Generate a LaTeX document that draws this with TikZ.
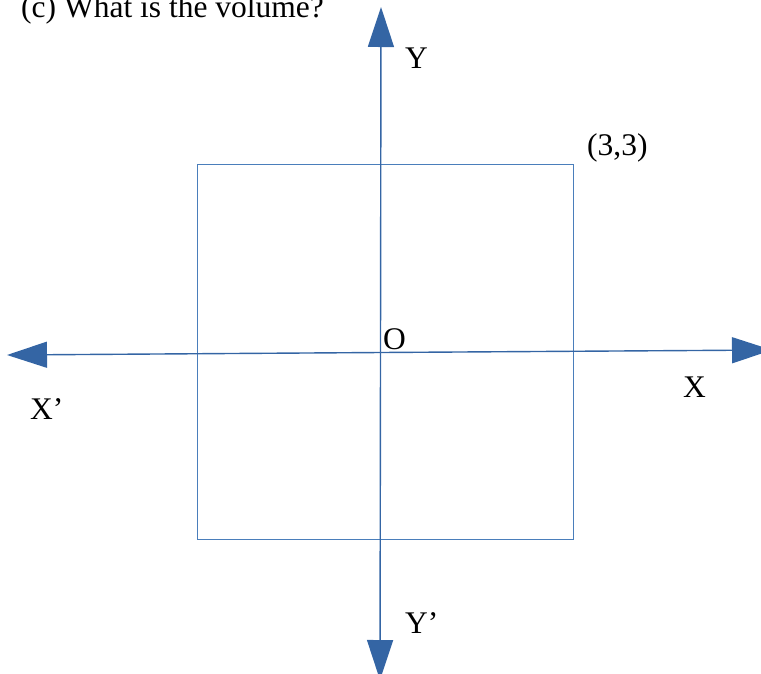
\documentclass[tikz,border=0pt]{standalone}
\usepackage{fontspec}
\setmainfont{Liberation Serif}
\usetikzlibrary{arrows.meta}
\definecolor{axisblue}{HTML}{3465A4}
\definecolor{boxblue}{HTML}{4A7EBB}
\begin{document}
\begin{tikzpicture}[x=1pt,y=-1pt,
  axis/.style={draw=axisblue,line width=1.4pt,-{Triangle[length=40pt,width=26pt]},shorten >=0pt},
  lbl/.style={anchor=base west,inner sep=0pt,font=\fontsize{31.5}{38}\selectfont},
  sq/.style={draw=boxblue,line width=1pt}]
\useasboundingbox (0,0) rectangle (761,673);
\clip (0,0) rectangle (761,673);
% axis end points
\coordinate (xl) at (7,355);
\coordinate (xr) at (772,350);
\coordinate (yt) at (381,7);
\coordinate (yb) at (380,680);
\coordinate (o) at (380.5,352.5);
% square
\draw[sq] (197,164) rectangle (573,539);
% axes
\draw[axis] (o) -- (xl);
\draw[axis] (o) -- (xr);
\draw[axis] (o) -- (yt);
\draw[axis] (o) -- (yb);
% labels
\node[lbl] (title) at (21,17) {(c) What is the volume?};
\node[lbl] (ylab) at (405,68) {Y};
\node[lbl] (yplab) at (405,633) {Y’};
\node[lbl] (xlab) at (683,397) {X};
\node[lbl] (xplab) at (30,419) {X’};
\node[lbl] (olab) at (383,349) {O};
\node[lbl] (pt) at (587,155) {(3,3)};
\end{tikzpicture}
\end{document}
